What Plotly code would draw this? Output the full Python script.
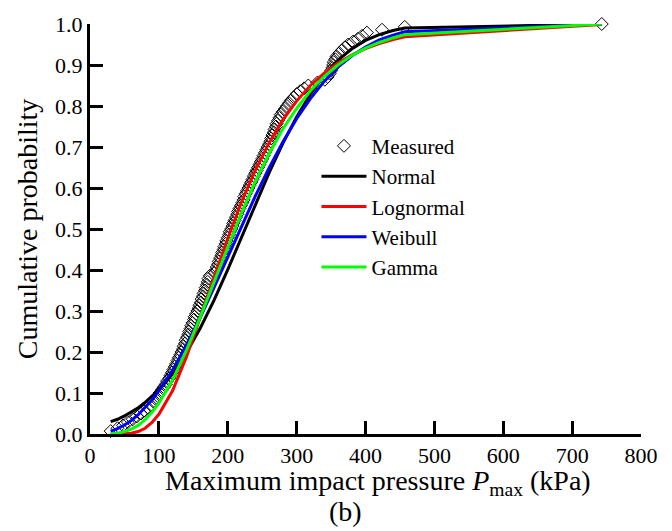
import plotly.graph_objects as go

# Measured empirical CDF
meas_x = [30, 40, 48, 55, 62, 68, 74, 79, 84, 88, 92, 95, 98, 101, 104, 107, 110, 112, 115, 117,
          119, 121, 123, 125, 127, 129, 131, 133, 135, 136, 138, 139, 141, 143, 144, 146, 147, 149, 151, 152,
          154, 156, 158, 159, 161, 162, 164, 165, 167, 168, 170, 171, 172, 174, 181, 183, 184, 186, 187, 189,
          191, 192, 194, 195, 197, 198, 200, 202, 203, 205, 207, 208, 210, 212, 214, 215, 217, 219, 221, 223,
          224, 226, 228, 230, 232, 234, 236, 238, 240, 242, 244, 246, 248, 250, 252, 254, 256, 258, 260, 262,
          263, 265, 267, 268, 270, 271, 273, 275, 277, 280, 283, 286, 289, 292, 296, 300, 305, 311, 317, 330,
          341, 345, 348, 350, 352, 353, 354, 356, 358, 362, 366, 370, 375, 382, 389, 395, 402, 424, 457, 743]
meas_y = [0.007, 0.014, 0.021, 0.029, 0.036, 0.043, 0.050, 0.057, 0.064, 0.071, 0.079, 0.086, 0.093, 0.100, 0.107, 0.114, 0.121, 0.129, 0.136, 0.143,
          0.150, 0.157, 0.164, 0.171, 0.179, 0.186, 0.193, 0.200, 0.207, 0.214, 0.221, 0.229, 0.236, 0.243, 0.250, 0.257, 0.264, 0.271, 0.279, 0.286,
          0.293, 0.300, 0.307, 0.314, 0.321, 0.329, 0.336, 0.343, 0.350, 0.357, 0.364, 0.371, 0.379, 0.386, 0.393, 0.400, 0.407, 0.414, 0.421, 0.429,
          0.436, 0.443, 0.450, 0.457, 0.464, 0.471, 0.479, 0.486, 0.493, 0.500, 0.507, 0.514, 0.521, 0.529, 0.536, 0.543, 0.550, 0.557, 0.564, 0.571,
          0.579, 0.586, 0.593, 0.600, 0.607, 0.614, 0.621, 0.629, 0.636, 0.643, 0.650, 0.657, 0.664, 0.671, 0.679, 0.686, 0.693, 0.700, 0.707, 0.714,
          0.721, 0.729, 0.736, 0.743, 0.750, 0.757, 0.764, 0.771, 0.779, 0.786, 0.793, 0.800, 0.807, 0.814, 0.821, 0.829, 0.836, 0.843, 0.850, 0.857,
          0.864, 0.871, 0.879, 0.886, 0.893, 0.900, 0.907, 0.914, 0.921, 0.929, 0.936, 0.943, 0.950, 0.957, 0.964, 0.971, 0.979, 0.986, 0.993, 1.000]

# Fitted CDF curves (read at these pressures)
curve_x = [30, 40, 50, 60, 70, 80, 90, 100, 120, 140, 160, 180, 200, 220, 240, 260, 280, 300,
           320, 340, 360, 380, 400, 420, 440, 457, 743]
normal_y = [0.030, 0.036, 0.044, 0.053, 0.064, 0.077, 0.091, 0.107, 0.147, 0.198, 0.258, 0.326, 0.401, 0.480,
            0.560, 0.637, 0.709, 0.773, 0.829, 0.875, 0.912, 0.939, 0.960, 0.974, 0.984, 0.990, 1.000]
lognormal_y = [0.000, 0.000, 0.001, 0.002, 0.006, 0.014, 0.028, 0.048, 0.106, 0.188, 0.282, 0.381, 0.477, 0.566,
               0.643, 0.710, 0.766, 0.812, 0.850, 0.880, 0.905, 0.924, 0.940, 0.952, 0.962, 0.969, 0.999]
weibull_y = [0.007, 0.013, 0.022, 0.033, 0.047, 0.064, 0.083, 0.105, 0.156, 0.217, 0.284, 0.357, 0.432, 0.507,
             0.580, 0.649, 0.712, 0.769, 0.818, 0.860, 0.895, 0.922, 0.944, 0.961, 0.973, 0.981, 1.000]
gamma_y = [0.001, 0.002, 0.006, 0.012, 0.021, 0.035, 0.053, 0.075, 0.132, 0.204, 0.285, 0.371, 0.458, 0.540,
           0.616, 0.684, 0.744, 0.794, 0.837, 0.872, 0.900, 0.923, 0.941, 0.955, 0.966, 0.974, 1.000]

x_ticks = [0, 100, 200, 300, 400, 500, 600, 700, 800]
y_ticks = [0.0, 0.1, 0.2, 0.3, 0.4, 0.5, 0.6, 0.7, 0.8, 0.9, 1.0]
y_tick_labels = ["0.0", "0.1", "0.2", "0.3", "0.4", "0.5", "0.6", "0.7", "0.8", "0.9", "1.0"]

FONT = "Liberation Serif"

fig = go.Figure()
fig.add_trace(go.Scatter(x=meas_x, y=meas_y, mode="markers", name="Measured",
                         marker=dict(symbol="diamond-open", size=10, color="black",
                                     line=dict(width=1, color="black")),
                         cliponaxis=False))
for name, ys, col in [("Normal", normal_y, "#000000"), ("Lognormal", lognormal_y, "#FF0000"),
                      ("Weibull", weibull_y, "#0000FF"), ("Gamma", gamma_y, "#00FF00")]:
    fig.add_trace(go.Scatter(x=curve_x, y=ys, mode="lines", name=name,
                             line=dict(color=col, width=3), cliponaxis=False))

axis_common = dict(showgrid=False, zeroline=False, showline=True, linecolor="black", linewidth=3,
                   ticks="inside", ticklen=13, tickwidth=3, tickcolor="black", mirror=False,
                   tickfont=dict(family=FONT, size=22, color="black"))

fig.update_layout(
    width=672, height=531,
    margin=dict(l=90, r=31, t=20, b=97),
    paper_bgcolor="white", plot_bgcolor="white",
    font=dict(family=FONT, color="black", size=22),
    xaxis=dict(range=[0, 800], tickvals=x_ticks, **axis_common),
    yaxis=dict(range=[0, 1.0], tickvals=y_ticks, ticktext=y_tick_labels, **axis_common,
               title=dict(text="Cumulative probability",
                          font=dict(family=FONT, size=28, color="black"), standoff=10)),
    legend=dict(x=0.411, y=0.752, xanchor="left", yanchor="top", bgcolor="rgba(0,0,0,0)",
                font=dict(family=FONT, size=21, color="black"), tracegroupgap=0,
                itemwidth=45),
    showlegend=True,
    annotations=[
        dict(text="Maximum impact pressure <i>P</i><sub>max</sub> (kPa)", xref="paper", yref="paper",
             x=0.5227, y=-0.118, xanchor="center", yanchor="middle", showarrow=False,
             font=dict(family=FONT, size=28, color="black")),
        dict(text="(b)", xref="paper", yref="paper", x=0.463, y=-0.188,
             xanchor="center", yanchor="middle", showarrow=False,
             font=dict(family=FONT, size=28, color="black"))],
)

fig.write_html("out.html")
